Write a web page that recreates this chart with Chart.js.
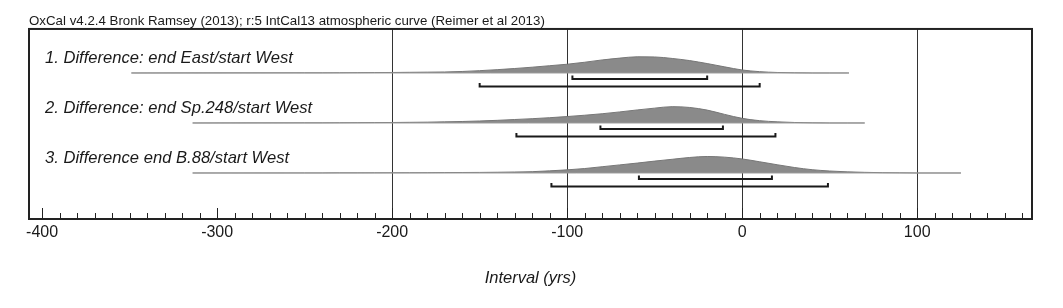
<!DOCTYPE html>
<html lang="en">
  <head>
    <meta charset="UTF-8" />
    <title>OxCal interval plot</title>
    <style>
      * { margin: 0; padding: 0; }
      body { background: #fff; }
      .chartBox { width: 1063px; height: 308px; }
    </style>
  </head>
  <body>
    <div class="chartBox"><canvas id="myChart"></canvas></div>

    <script src="https://cdn.jsdelivr.net/npm/chart.js"></script>
    <script>
      // data block
      const rowLabels = [
        "1. Difference: end East/start West",
        "2. Difference: end Sp.248/start West",
        "3. Difference end B.88/start West"
      ];
      const rangeStart = [-349, -314, -314];
      const rangeEnd = [61, 70, 125];
      const hpd68 = [[-97, -20], [-81, -11], [-59, 17]];
      const hpd95 = [[-150, 10], [-129, 19], [-109, 49]];

      const years = [-250, -240, -230, -220, -210, -200, -190, -180, -170, -160, -150, -140,
        -130, -120, -110, -100, -90, -80, -70, -60, -50, -40, -30, -20, -10, 0, 10, 20, 30,
        40, 50, 60, 70, 80, 90, 100];
      const prob1 = [0.01, 0.01, 0.015, 0.02, 0.025, 0.03, 0.04, 0.05, 0.06, 0.09, 0.14, 0.2,
        0.27, 0.35, 0.44, 0.53, 0.65, 0.79, 0.9, 0.98, 0.97, 0.88, 0.75, 0.57, 0.37, 0.18, 0.08,
        0.03, 0.01, 0, 0, 0, 0, 0, 0, 0];
      const prob2 = [0.01, 0.01, 0.015, 0.02, 0.025, 0.03, 0.04, 0.05, 0.07, 0.09, 0.12, 0.16,
        0.21, 0.26, 0.32, 0.39, 0.47, 0.56, 0.67, 0.79, 0.9, 0.99, 0.94, 0.78, 0.52, 0.28, 0.14,
        0.07, 0.03, 0.01, 0, 0, 0, 0, 0, 0];
      const prob3 = [0.005, 0.005, 0.01, 0.01, 0.012, 0.015, 0.018, 0.02, 0.025, 0.03, 0.035, 0.045,
        0.06, 0.08, 0.13, 0.19, 0.27, 0.38, 0.49, 0.6, 0.72, 0.83, 0.94, 1.0, 0.96, 0.85, 0.68,
        0.5, 0.33, 0.2, 0.12, 0.07, 0.04, 0.02, 0.01, 0];
      const probs = [prob1, prob2, prob3];

      const xTicks = [-400, -300, -200, -100, 0, 100];
      const gridYears = [-200, -100, 0, 100];

      // layout in y units (1 unit = one row spacing)
      const rowBase = [2.92, 1.92, 0.92];
      const peak = 0.33;
      const fontFam = "'Liberation Sans', Arial, sans-serif";

      const datasets = [];
      rowBase.forEach((base, i) => {
        datasets.push({
          data: [{ x: rangeStart[i], y: base }, { x: rangeEnd[i], y: base }],
          borderColor: "#9a9a9a",
          borderWidth: 1
        });
        const pts = [{ x: rangeStart[i], y: base }];
        years.forEach((yr, j) => {
          if (yr > rangeStart[i] && yr < rangeEnd[i]) pts.push({ x: yr, y: base + probs[i][j] * peak });
        });
        pts.push({ x: rangeEnd[i], y: base });
        datasets.push({
          data: pts,
          borderColor: "#777",
          borderWidth: 1,
          backgroundColor: "#8a8a8a",
          fill: { value: base },
          cubicInterpolationMode: "monotone"
        });
        [[hpd68[i], 0.12], [hpd95[i], 0.27]].forEach(([r, off]) => {
          const y = base - off;
          datasets.push({
            data: [
              { x: r[0], y: y + 0.07 }, { x: r[0], y: y },
              { x: r[1], y: y }, { x: r[1], y: y + 0.07 }
            ],
            borderColor: "#1a1a1a",
            borderWidth: 2
          });
        });
      });

      // frame, inward ticks and row labels
      const oxcalFrame = {
        id: "oxcalFrame",
        afterDraw(chart) {
          const { ctx, chartArea: { top, bottom, left, right }, scales: { x, y } } = chart;
          ctx.save();
          ctx.strokeStyle = "#222";
          ctx.lineWidth = 2;
          ctx.strokeRect(left, top, right - left, bottom - top);
          ctx.lineWidth = 1;
          x.ticks.forEach(t => {
            const px = Math.round(x.getPixelForValue(t.value)) + 0.5;
            const len = t.value % 100 === 0 ? 11 : 6;
            ctx.beginPath();
            ctx.moveTo(px, bottom);
            ctx.lineTo(px, bottom - len);
            ctx.stroke();
          });
          ctx.fillStyle = "#1a1a1a";
          ctx.font = "italic 16.6px " + fontFam;
          ctx.textBaseline = "middle";
          rowLabels.forEach((lab, i) => {
            ctx.fillText(lab, left + 16, y.getPixelForValue(rowBase[i] + 0.3));
          });
          ctx.restore();
        }
      };

      const config = {
        type: "scatter",
        data: { datasets },
        options: {
          responsive: false,
          animation: false,
          showLine: true,
          elements: { point: { radius: 0 }, line: { tension: 0 } },
          layout: { padding: { left: 29, right: 31, top: 0, bottom: 0 } },
          plugins: {
            legend: { display: false },
            tooltip: { enabled: false },
            title: {
              display: true,
              text: "OxCal v4.2.4 Bronk Ramsey (2013); r:5 IntCal13 atmospheric curve (Reimer et al 2013)",
              align: "start",
              color: "#1a1a1a",
              font: { family: fontFam, size: 13.3, weight: "normal", lineHeight: 1.2 },
              padding: { top: 13, bottom: 0 }
            }
          },
          scales: {
            x: {
              type: "linear",
              min: -407.5,
              max: 165.6,
              afterBuildTicks: s => {
                const ticks = [];
                for (let v = -400; v <= 160; v += 10) ticks.push({ value: v });
                s.ticks = ticks;
              },
              afterFit: s => { s.height = 89; },
              ticks: {
                autoSkip: false,
                maxRotation: 0,
                padding: 4,
                color: "#1a1a1a",
                font: { family: fontFam, size: 16 },
                callback: v => (xTicks.includes(v) ? String(v) : "")
              },
              grid: {
                drawTicks: false,
                lineWidth: 1,
                color: c => (c.tick && gridYears.includes(c.tick.value) ? "#333" : "rgba(0,0,0,0)")
              },
              border: { display: true, color: "#222", width: 2 },
              title: {
                display: true,
                text: "Interval (yrs)",
                color: "#1a1a1a",
                font: { family: fontFam, size: 16.5, style: "italic" },
                padding: { top: 0, bottom: 20 }
              }
            },
            y: { display: false, min: 0, max: 3.8 }
          }
        },
        plugins: [oxcalFrame]
      };

      const canvas = document.getElementById("myChart");
      canvas.width = 1063;
      canvas.height = 308;
      const myChart = new Chart(canvas, config);
    </script>
  </body>
</html>
